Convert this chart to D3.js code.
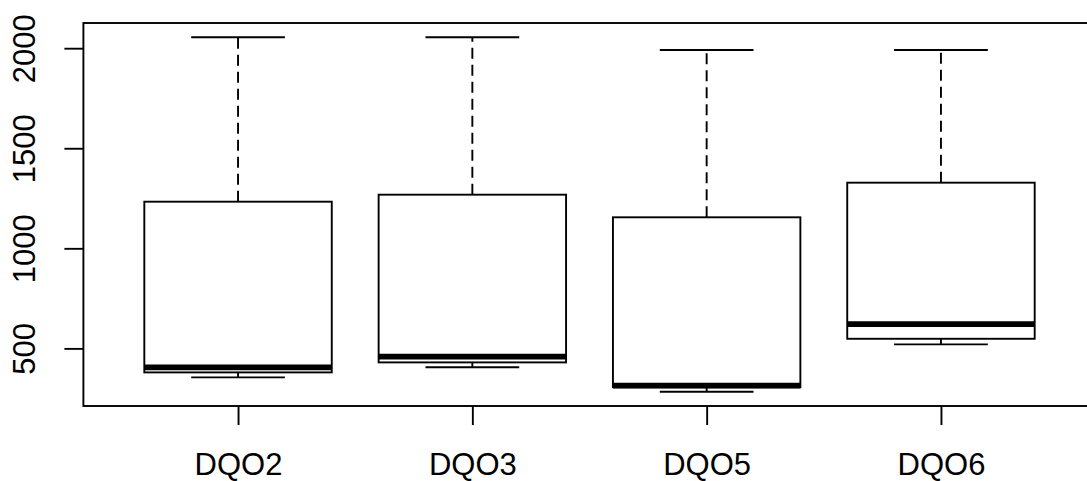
<!DOCTYPE html>
<html>
<head>
<meta charset="utf-8">
<script src="https://cdn.jsdelivr.net/npm/d3@7"></script>
<style>
  body { margin: 0; background: #fff; }
  svg { display: block; }
  text { font-family: "Liberation Sans", Arial, sans-serif; fill: #000; }
</style>
</head>
<body>
<div id="chart"></div>
<script>
// datos del boxplot
const categories = ["DQO2", "DQO3", "DQO5", "DQO6"];
const whiskerLow = [355, 406, 283, 520];
const q1 = [380, 430, 306, 548];
const median = [405, 459, 314, 621];
const q3 = [1233, 1268, 1155, 1328];
const whiskerHigh = [2055, 2055, 1991, 1991];
const yTicks = [500, 1000, 1500, 2000];

const width = 1087, height = 481;
const plot = { left: 83.4, right: 1095.6, top: 23, bottom: 406 };
const lw = 1.9;
const fontSize = "31px";

const boxes = categories.map((c, i) => ({
    cat: c, pos: i + 1,
    lo: whiskerLow[i], q1: q1[i], med: median[i], q3: q3[i], hi: whiskerHigh[i]
}));

const svg = d3.select("#chart").append("svg")
    .attr("width", width)
    .attr("height", height);

// escalas como en R (rango extendido 4%)
const yMin = d3.min(whiskerLow), yMax = d3.max(whiskerHigh);
const yPad = (yMax - yMin) * 0.04;
const y = d3.scaleLinear()
    .domain([yMin - yPad, yMax + yPad])
    .range([plot.bottom, plot.top]);

const xPad = categories.length * 0.04;
const x = d3.scaleLinear()
    .domain([0.5 - xPad, categories.length + 0.5 + xPad])
    .range([plot.left, plot.right]);

const unit = x(2) - x(1);
const boxHalf = 0.4 * unit;
const capHalf = 0.2 * unit;

const g = svg.append("g");

// bigotes punteados
g.selectAll(".whisker-up")
    .data(boxes)
    .join("line")
    .attr("x1", d => x(d.pos)).attr("x2", d => x(d.pos))
    .attr("y1", d => y(d.q3)).attr("y2", d => y(d.hi))
    .attr("stroke", "#000").attr("stroke-width", lw)
    .attr("stroke-dasharray", "11,6");

g.selectAll(".whisker-down")
    .data(boxes)
    .join("line")
    .attr("x1", d => x(d.pos)).attr("x2", d => x(d.pos))
    .attr("y1", d => y(d.q1)).attr("y2", d => y(d.lo))
    .attr("stroke", "#000").attr("stroke-width", lw)
    .attr("stroke-dasharray", "11,6");

// topes
["hi", "lo"].forEach(k => {
    g.selectAll(".cap-" + k)
        .data(boxes)
        .join("line")
        .attr("x1", d => x(d.pos) - capHalf).attr("x2", d => x(d.pos) + capHalf)
        .attr("y1", d => y(d[k])).attr("y2", d => y(d[k]))
        .attr("stroke", "#000").attr("stroke-width", lw);
});

// cajas
g.selectAll(".box")
    .data(boxes)
    .join("rect")
    .attr("x", d => x(d.pos) - boxHalf)
    .attr("y", d => y(d.q3))
    .attr("width", 2 * boxHalf)
    .attr("height", d => y(d.q1) - y(d.q3))
    .attr("fill", "#fff")
    .attr("stroke", "#000").attr("stroke-width", lw);

// medianas
g.selectAll(".median")
    .data(boxes)
    .join("line")
    .attr("x1", d => x(d.pos) - boxHalf).attr("x2", d => x(d.pos) + boxHalf)
    .attr("y1", d => y(d.med)).attr("y2", d => y(d.med))
    .attr("stroke", "#000").attr("stroke-width", lw * 3);

// eje Y
const yAxis = svg.append("g")
    .attr("transform", `translate(${plot.left},0)`)
    .call(d3.axisLeft(y).tickValues(yTicks).tickSize(19).tickFormat(d3.format("d")));
yAxis.select(".domain").remove();
yAxis.selectAll("line").attr("stroke", "#000").attr("stroke-width", lw);
yAxis.selectAll("text")
    .attr("transform", "rotate(-90)")
    .attr("x", 0)
    .attr("y", -48)
    .attr("dy", 0)
    .attr("text-anchor", "middle")
    .style("font-size", fontSize)
    .attr("fill", "#000");

// eje X
const xAxis = svg.append("g")
    .attr("transform", `translate(0,${plot.bottom})`)
    .call(d3.axisBottom(x).tickValues(boxes.map(d => d.pos)).tickSize(19)
        .tickFormat(d => categories[d - 1]));
xAxis.select(".domain").remove();
xAxis.selectAll("line").attr("stroke", "#000").attr("stroke-width", lw);
xAxis.selectAll("text")
    .attr("y", 69)
    .attr("dy", 0)
    .style("font-size", fontSize)
    .attr("fill", "#000");

// marco
svg.append("rect")
    .attr("x", plot.left).attr("y", plot.top)
    .attr("width", plot.right - plot.left)
    .attr("height", plot.bottom - plot.top)
    .attr("fill", "none")
    .attr("stroke", "#000").attr("stroke-width", lw);
</script>
</body>
</html>
